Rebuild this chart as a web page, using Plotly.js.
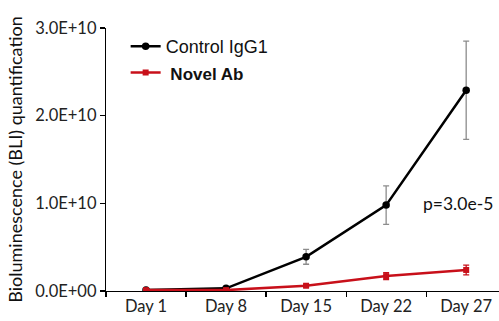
<!DOCTYPE html>
<html>
<head>
<meta charset="utf-8">
<script src="https://cdn.plot.ly/plotly-3.0.1.min.js"></script>
<style>html,body{margin:0;padding:0;background:#fff;}#chart{width:499px;height:321px;}</style>
</head>
<body>
<div id="chart"></div>
<script>
const days = ["Day 1", "Day 8", "Day 15", "Day 22", "Day 27"];
const controlValues = [0.01e10, 0.03e10, 0.39e10, 0.98e10, 2.29e10];
const controlErrors = [0.01e10, 0.01e10, 0.085e10, 0.22e10, 0.56e10];
const novelValues = [0.01e10, 0.01e10, 0.06e10, 0.17e10, 0.24e10];
const novelErrors = [0.005e10, 0.005e10, 0.015e10, 0.04e10, 0.055e10];
const yTickVals = [0, 1e10, 2e10, 3e10];
const yTickText = ["0.0E+00", "1.0E+10", "2.0E+10", "3.0E+10"];
const pValueText = "p=3.0e-5";

const tickFont = {family: "Lato, Open Sans, sans-serif", size: 16.5, color: "#222"};

const traces = [
  {
    x: days, y: controlValues, type: "scatter", mode: "lines+markers",
    name: "Control IgG1", legendgroup: "a",
    line: {color: "#000", width: 2.5},
    marker: {color: "#000", size: 7.5, symbol: "circle"},
    error_y: {type: "data", array: controlErrors, visible: true, color: "#8c8c8c", thickness: 1.3, width: 3}
  },
  {
    x: days, y: novelValues, type: "scatter", mode: "lines+markers",
    name: "<span style='font-size:17px'><b>&nbsp;Novel Ab</b></span>", legendgroup: "b",
    line: {color: "#c8101a", width: 2.5},
    marker: {color: "#c8101a", size: 6, symbol: "square"},
    error_y: {type: "data", array: novelErrors, visible: true, color: "#c8101a", thickness: 1.3, width: 3}
  }
];

const layout = {
  width: 499, height: 321,
  margin: {l: 106, r: 0, t: 28, b: 30},
  paper_bgcolor: "#fff", plot_bgcolor: "#fff",
  showlegend: true,
  legend: {x: 0.05, y: 1.0, xanchor: "left", yanchor: "top", bgcolor: "rgba(0,0,0,0)",
           font: {family: "Liberation Sans, Arial, sans-serif", size: 18, color: "#111"},
           tracegroupgap: 0, itemwidth: 30},
  xaxis: {
    type: "category", range: [-0.5, 4.41], tickson: "boundaries",
    showline: true, linecolor: "#000", linewidth: 1.2,
    ticks: "outside", ticklen: 5, tickcolor: "#000", tickwidth: 1.2,
    showgrid: false, zeroline: false, tickfont: tickFont, fixedrange: true
  },
  yaxis: {
    range: [0, 3e10], tickvals: yTickVals, ticktext: yTickText,
    showline: true, linecolor: "#000", linewidth: 1.2,
    ticks: "outside", ticklen: 5, tickcolor: "#000", tickwidth: 1.2,
    showgrid: false, zeroline: false, tickfont: tickFont,
    title: {text: "Bioluminescence (BLI) quantification", font: {family: "Lato, Open Sans, sans-serif", size: 18, color: "#111"}, standoff: 8}
  },
  annotations: [
    {text: pValueText, x: 3.44, y: 1.0e10, xref: "x", yref: "y", showarrow: false, xanchor: "left",
     font: {family: "Lato, Open Sans, sans-serif", size: 17.5, color: "#111"}}
  ]
};

Plotly.newPlot("chart", traces, layout, {displayModeBar: false, staticPlot: true});
</script>
</body>
</html>
